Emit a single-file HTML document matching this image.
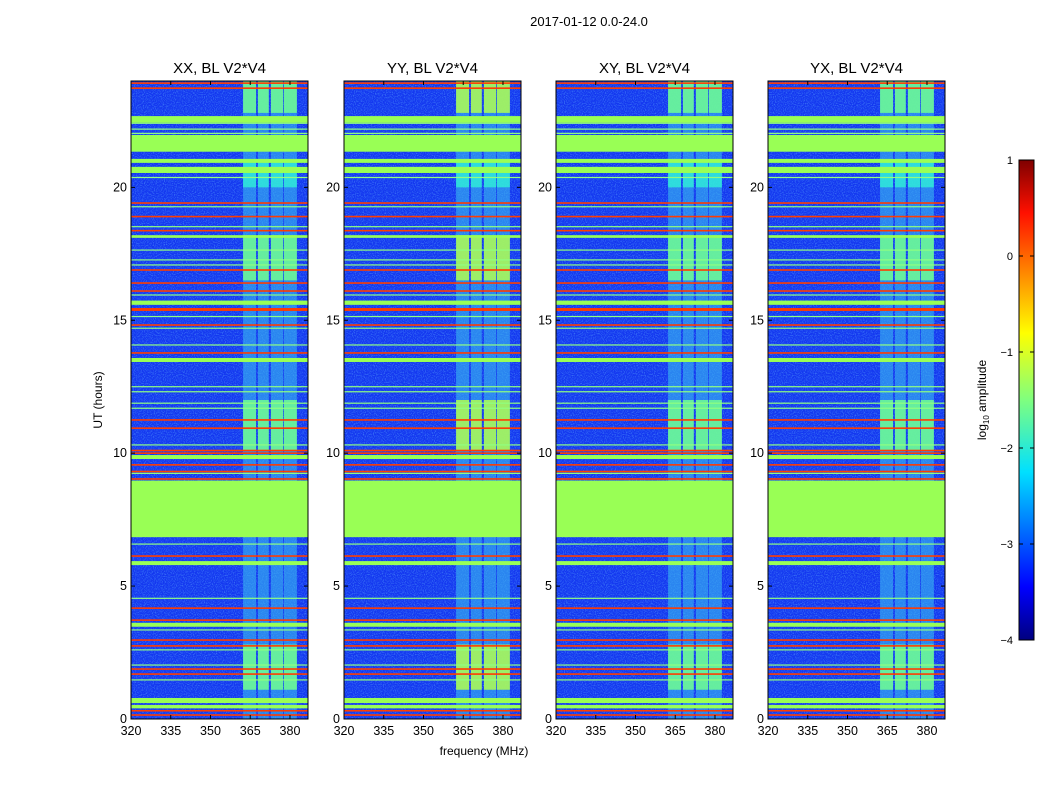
<!DOCTYPE html>
<html><head><meta charset="utf-8"><style>
body{margin:0;background:#fff;}
svg{display:block;font-family:"Liberation Sans",sans-serif;}
</style></head><body>
<svg id="fig" width="1050" height="800" viewBox="0 0 1050 800">
<defs>
<filter id="noise" x="0" y="0" width="100%" height="100%">
<feTurbulence type="fractalNoise" baseFrequency="0.9" numOctaves="1" seed="3"/>
<feColorMatrix type="matrix" values="0 0 0 0 0.15  0 0 0 0 0.55  0 0 0 0 1  0 0 0 1.8 -0.8"/>
</filter>
<linearGradient id="jet" x1="0" y1="1" x2="0" y2="0">
<stop offset="0" stop-color="#00007f"/><stop offset="0.11" stop-color="#0000ff"/>
<stop offset="0.35" stop-color="#00e0ff"/><stop offset="0.5" stop-color="#7fff7f"/>
<stop offset="0.64" stop-color="#ffff00"/><stop offset="0.89" stop-color="#ff1000"/>
<stop offset="1" stop-color="#7f0000"/>
</linearGradient>
</defs>
<text x="589" y="26" font-size="13" text-anchor="middle">2017-01-12 0.0-24.0</text>
<text x="484" y="755" font-size="12" text-anchor="middle">frequency (MHz)</text>
<text transform="translate(102,400) rotate(-90)" font-size="12" text-anchor="middle">UT (hours)</text>
</svg>
<script>
const panelTitles = ["XX, BL V2*V4","YY, BL V2*V4","XY, BL V2*V4","YX, BL V2*V4"];
const greenBands = [[22.43,22.68],[21.34,21.97],[20.92,21.07],[20.54,20.77],[18.1,18.2],[15.58,15.74],[13.43,13.58],[9.78,9.93],[6.84,8.97],[5.79,5.94],[3.47,3.62],[0.6,0.79],[0.4,0.53]];
const redLines = [23.92,23.73,19.41,18.9,18.37,16.89,16.4,16.1,15.43,15.38,14.82,13.77,11.25,10.94,10.1,10.0,9.56,9.31,9.03,6.13,4.17,3.72,2.97,2.75,1.88,1.69,0.31,0.15];
const thinLines = [22.41,22.19,22.03,20.37,19.27,18.52,17.64,17.27,17.08,15.95,15.14,14.7,14.07,12.5,12.31,11.88,11.69,10.31,9.24,6.58,4.54,3.35,2.6,2.03,1.47];
const rfiColumns = [[362.3,367.2],[367.9,372],[372.8,377.4],[377.7,382.6]];
const brightTimes = [[22.8,24],[16.5,18.2],[10.1,12.0],[1.1,2.8]];
const cyanTimes = [[20.0,21.0]];
const xTicks = [320,335,350,365,380];
const yTicks = [0,5,10,15,20];
const cbTicks = [1,0,-1,-2,-3,-4];

const NS="http://www.w3.org/2000/svg";
const fig=document.getElementById('fig');
function mk(tag,attrs,parent){const e=document.createElementNS(NS,tag);for(const k in attrs)e.setAttribute(k,attrs[k]);(parent||fig).appendChild(e);return e;}
const panelLeft=[131,344,556,768], PW=177, TOP=81, BOT=719;
const fmin=320,fmax=386.8,tmin=0,tmax=24;

panelTitles.forEach((title,i)=>{
  const L=panelLeft[i];
  const xs=f=>L+(f-fmin)/(fmax-fmin)*PW;
  const ys=t=>BOT-(t-tmin)/(tmax-tmin)*(BOT-TOP);
  const g=mk('g',{});
  
  
  const bg=mk('rect',{x:L,y:TOP,width:PW,height:BOT-TOP,fill:'#1438f0'},g);
  
  
  const nz=mk('rect',{x:L,y:TOP,width:PW,height:BOT-TOP,filter:'url(#noise)',opacity:0.7},g);
  
  
  rfiColumns.forEach(c=>{
    const r=mk('rect',{x:xs(c[0]),y:TOP,width:xs(c[1])-xs(c[0]),height:BOT-TOP,fill:'#38b8f0',opacity:0.6},g);
    
    
    brightTimes.forEach(b=>{
      const rb=mk('rect',{x:xs(c[0]),y:ys(b[1]),width:xs(c[1])-xs(c[0]),height:ys(b[0])-ys(b[1]),fill:(i==1?'#b0ff50':'#70ff90'),opacity:0.85},g);
      
      
    });
    cyanTimes.forEach(b=>{
      const rb=mk('rect',{x:xs(c[0]),y:ys(b[1]),width:xs(c[1])-xs(c[0]),height:ys(b[0])-ys(b[1]),fill:'#30f0d8',opacity:0.8},g);
      
      
    });
  });
  thinLines.forEach(t=>{
    const l=mk('rect',{x:L,y:ys(t)-0.6,width:PW,height:1.2,fill:'#90ff80'},g);
    
    
  });
  greenBands.forEach(b=>{
    const r=mk('rect',{x:L,y:ys(b[1]),width:PW,height:ys(b[0])-ys(b[1]),fill:'#99ff55'},g);
    
    
  });
  redLines.forEach(t=>{
    const l=mk('rect',{x:L,y:ys(t)-0.8,width:PW,height:1.6,fill:'#ff3c00'},g);
    
    
  });
  const fr=mk('rect',{x:L,y:TOP,width:PW,height:BOT-TOP,fill:'none',stroke:'#000','stroke-width':1},g);
  
  
  const tt=mk('text',{x:L+PW/2,y:73,'font-size':15,'text-anchor':'middle'},g);
  tt.textContent=title;
  
  
  xTicks.forEach(v=>{
    const x=xs(v);
    mk('line',{x1:x,x2:x,y1:BOT,y2:BOT-4,stroke:'#000'},g);
    mk('line',{x1:x,x2:x,y1:TOP,y2:TOP+4,stroke:'#000'},g);
    const t=mk('text',{x:x,y:BOT+16,'font-size':12.5,'text-anchor':'middle'},g);
    t.textContent=v;
    
    
  });
  yTicks.forEach(v=>{
    const y=ys(v);
    mk('line',{x1:L,x2:L+4,y1:y,y2:y,stroke:'#000'},g);
    mk('line',{x1:L+PW,x2:L+PW-4,y1:y,y2:y,stroke:'#000'},g);
    const t=mk('text',{x:L-4,y:y+4,'font-size':12.5,'text-anchor':'end'},g);
    t.textContent=v;
    
    
  });
});

const CBX=1019,CBW=15,CBT=160,CBB=640,cmin=-4,cmax=1;
const cy=v=>CBB-(v-cmin)/(cmax-cmin)*(CBB-CBT);
const cb=mk('rect',{x:CBX,y:CBT,width:CBW,height:CBB-CBT,fill:'url(#jet)',stroke:'#000'});


cbTicks.forEach(v=>{
  const y=cy(v);
  mk('line',{x1:CBX,x2:CBX+4,y1:y,y2:y,stroke:'#000'});
  mk('line',{x1:CBX+CBW,x2:CBX+CBW-4,y1:y,y2:y,stroke:'#000'});
  const t=mk('text',{x:1013,y:y+4,'font-size':11,'text-anchor':'end'});
  t.textContent=(v<0?'\u2212'+(-v):v);
  
  
});
const cl=mk('text',{transform:'translate(986,400) rotate(-90)','font-size':12,'text-anchor':'middle'});
cl.innerHTML='log<tspan font-size="8" dy="3">10</tspan><tspan dy="-3"> amplitude</tspan>';


</script>
</body></html>
